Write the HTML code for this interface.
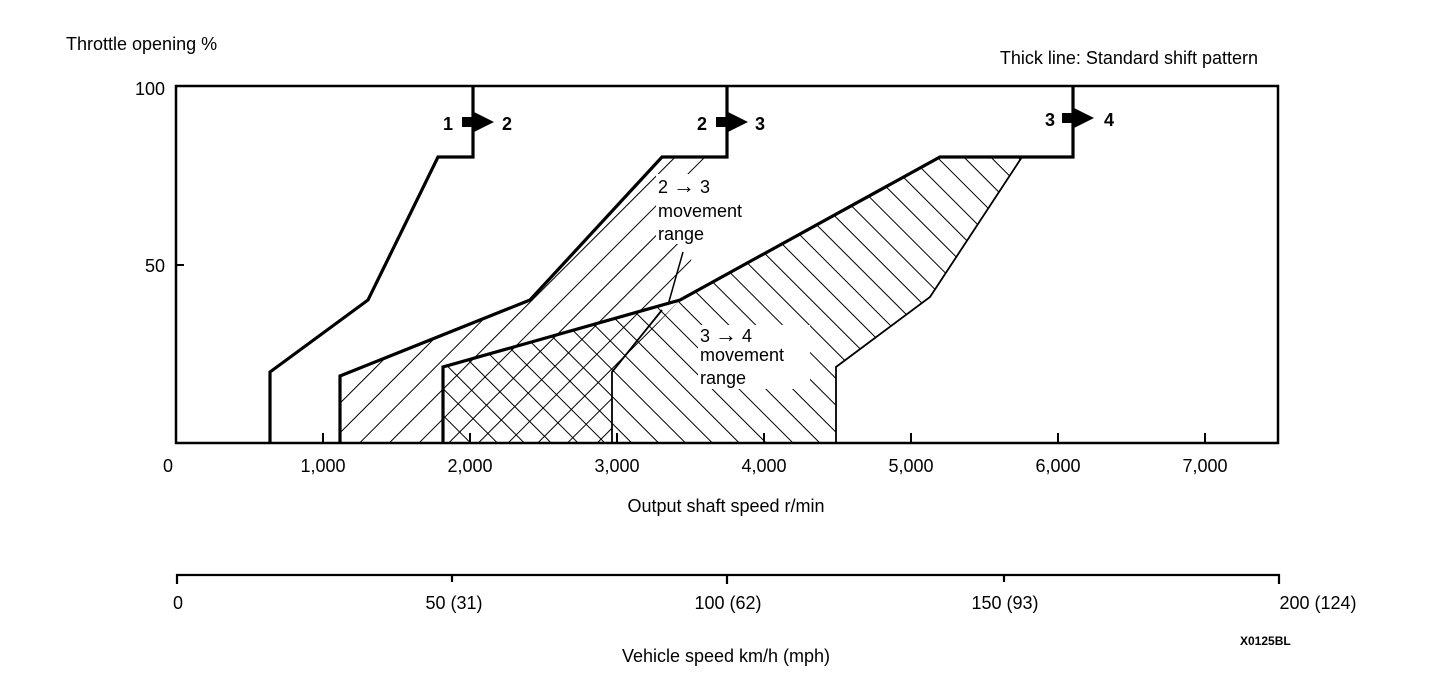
<!DOCTYPE html>
<html><head><meta charset="utf-8"><style>
html,body{margin:0;padding:0;background:#fff;}
svg{display:block;}
text{font-family:"Liberation Sans",Arial,sans-serif;fill:#000;}
</style></head><body>
<svg width="1456" height="694" viewBox="0 0 1456 694" xmlns="http://www.w3.org/2000/svg">
<defs>
<pattern id="hf" patternUnits="userSpaceOnUse" width="21" height="21" patternTransform="rotate(45)">
<line x1="0" y1="0" x2="0" y2="21" stroke="#000" stroke-width="2"/>
</pattern>
<pattern id="hb" patternUnits="userSpaceOnUse" width="19" height="19" patternTransform="rotate(-45)">
<line x1="0" y1="0" x2="0" y2="19" stroke="#000" stroke-width="2"/>
</pattern>
</defs>
<polygon points="340,443 340,376 530,300 662,157 720,157 680,300 612,372 612,443" fill="url(#hf)"/>
<polygon points="443,443 443,367 680,300 940,157 1022,157 930,297 836,367 836,443" fill="url(#hb)"/>
<polyline points="1022,157 930,297 836,367 836,443" fill="none" stroke="#000" stroke-width="1.8"/>
<polyline points="662,310 612,372 612,443" fill="none" stroke="#000" stroke-width="1.8"/>
<polyline points="683,252 668,305" fill="none" stroke="#000" stroke-width="1.5"/>
<rect x="656" y="174" width="115" height="70" fill="#fff"/>
<rect x="698" y="325" width="112" height="64" fill="#fff"/>
<rect x="176" y="86" width="1102" height="357" fill="none" stroke="#000" stroke-width="2.5"/>
<line x1="176" y1="265" x2="184" y2="265" stroke="#000" stroke-width="2"/>
<g stroke="#000" stroke-width="2">
<line x1="323" y1="443" x2="323" y2="433"/><line x1="470" y1="443" x2="470" y2="433"/>
<line x1="617" y1="443" x2="617" y2="433"/><line x1="764" y1="443" x2="764" y2="433"/>
<line x1="911" y1="443" x2="911" y2="433"/><line x1="1058" y1="443" x2="1058" y2="433"/>
<line x1="1205" y1="443" x2="1205" y2="433"/>
</g>
<g fill="none" stroke="#000" stroke-width="3.2">
<polyline points="270,443 270,372 368,300 438,157 473,157 473,86"/>
<polyline points="340,443 340,376 530,300 662,157 727,157 727,86"/>
<polyline points="443,443 443,367 680,300 940,157 1073,157 1073,86"/>
</g>
<g>
<rect x="462" y="117" width="12" height="10" fill="#000"/><polygon points="474,112 494,122 474,132" fill="#000"/>
<rect x="716" y="117" width="12" height="10" fill="#000"/><polygon points="728,112 748,122 728,132" fill="#000"/>
<rect x="1062" y="113" width="12" height="10" fill="#000"/><polygon points="1074,108 1094,118 1074,128" fill="#000"/>
</g>
<g font-size="18" font-weight="bold">
<text x="443" y="130">1</text><text x="502" y="130">2</text>
<text x="697" y="130">2</text><text x="755" y="130">3</text>
<text x="1045" y="126">3</text><text x="1104" y="126">4</text>
</g>
<g font-size="18">
<text x="658" y="193">2 <tspan font-size="22">→</tspan> 3</text><text x="658" y="217">movement</text><text x="658" y="240">range</text>
<text x="700" y="342">3 <tspan font-size="22">→</tspan> 4</text><text x="700" y="361">movement</text><text x="700" y="384">range</text>
<text x="66" y="50">Throttle opening %</text>
<text x="1258" y="64" text-anchor="end">Thick line: Standard shift pattern</text>
<text x="165" y="95" text-anchor="end">100</text>
<text x="165" y="272" text-anchor="end">50</text>
<text x="168" y="472" text-anchor="middle">0</text>
<text x="323" y="472" text-anchor="middle">1,000</text>
<text x="470" y="472" text-anchor="middle">2,000</text>
<text x="617" y="472" text-anchor="middle">3,000</text>
<text x="764" y="472" text-anchor="middle">4,000</text>
<text x="911" y="472" text-anchor="middle">5,000</text>
<text x="1058" y="472" text-anchor="middle">6,000</text>
<text x="1205" y="472" text-anchor="middle">7,000</text>
<text x="726" y="512" text-anchor="middle">Output shaft speed r/min</text>
<text x="178" y="609" text-anchor="middle">0</text>
<text x="454" y="609" text-anchor="middle">50 (31)</text>
<text x="728" y="609" text-anchor="middle">100 (62)</text>
<text x="1005" y="609" text-anchor="middle">150 (93)</text>
<text x="1318" y="609" text-anchor="middle">200 (124)</text>
<text x="726" y="662" text-anchor="middle">Vehicle speed km/h (mph)</text>
</g>
<text x="1240" y="645" font-size="12" font-weight="bold">X0125BL</text>
<g stroke="#000" stroke-width="2.2">
<line x1="176" y1="575" x2="1280" y2="575"/>
<line x1="177" y1="574" x2="177" y2="584"/><line x1="452" y1="574" x2="452" y2="582"/>
<line x1="727" y1="574" x2="727" y2="584"/><line x1="1004" y1="574" x2="1004" y2="582"/>
<line x1="1279" y1="574" x2="1279" y2="584"/>
</g>
</svg>
</body></html>
